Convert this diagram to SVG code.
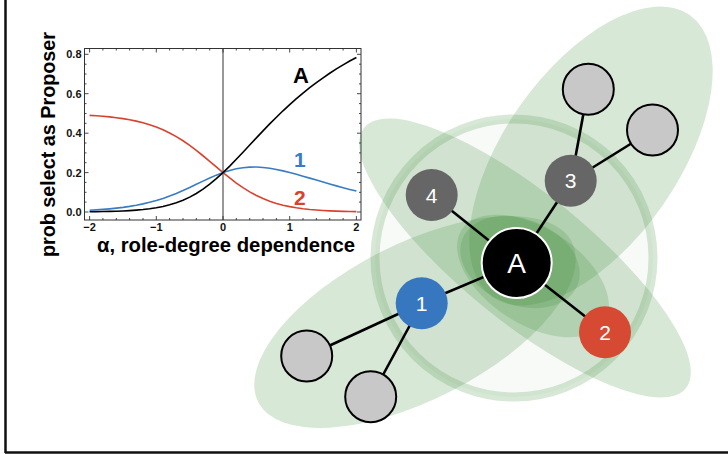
<svg xmlns="http://www.w3.org/2000/svg" width="728" height="454" viewBox="0 0 728 454">
<style>
.lbl{font-family:"Liberation Sans",Arial,sans-serif;font-weight:bold}
.tk{font-family:"Liberation Sans",Arial,sans-serif;font-weight:bold;font-size:11px;fill:#111}
.grp{fill:#3a8a36;fill-opacity:0.2}
.edge{stroke:#000;stroke-width:2.6;fill:none}
.leaf{fill:#c8c8c8;stroke:#000;stroke-width:2}
.nt{font-family:"Liberation Sans",Arial,sans-serif;fill:#fff;text-anchor:middle}
.crv{fill:none;stroke-width:1.6}
</style>
<rect width="728" height="454" fill="#fff"/>
<g id="frame" stroke="#111" stroke-width="2.5" fill="none">
<path d="M5.5 0V453M5 452.5H728"/>
</g>
<g id="plot">
<rect x="84.5" y="48.5" width="276.5" height="171.5" fill="none" stroke="#333" stroke-width="1"/>
<path d="M223 48.5V220" stroke="#333" stroke-width="1"/>
<path stroke="#333" stroke-width="0.9" fill="none" d="M89.6 220v-4M156.3 220v-4M223 220v-4M289.7 220v-4M356.4 220v-4M89.6 48.5v4M156.3 48.5v4M223 48.5v4M289.7 48.5v4M356.4 48.5v4M102.9 220v-2M116.3 220v-2M129.6 220v-2M143 220v-2M169.6 220v-2M183 220v-2M196.3 220v-2M209.7 220v-2M236.3 220v-2M249.7 220v-2M263 220v-2M276.4 220v-2M303 220v-2M316.4 220v-2M329.7 220v-2M343.1 220v-2M102.9 48.5v2M116.3 48.5v2M129.6 48.5v2M143 48.5v2M169.6 48.5v2M183 48.5v2M196.3 48.5v2M209.7 48.5v2M236.3 48.5v2M249.7 48.5v2M263 48.5v2M276.4 48.5v2M303 48.5v2M316.4 48.5v2M329.7 48.5v2M343.1 48.5v2M84.5 212h4M84.5 172.6h4M84.5 133.2h4M84.5 93.7h4M84.5 54.3h4M361 212h-4M361 172.6h-4M361 133.2h-4M361 93.7h-4M361 54.3h-4M84.5 202.1h2M84.5 192.3h2M84.5 182.4h2M84.5 162.7h2M84.5 152.9h2M84.5 143h2M84.5 123.3h2M84.5 113.5h2M84.5 103.6h2M84.5 83.9h2M84.5 74h2M84.5 64.2h2M361 202.1h-2M361 192.3h-2M361 182.4h-2M361 162.7h-2M361 152.9h-2M361 143h-2M361 123.3h-2M361 113.5h-2M361 103.6h-2M361 83.9h-2M361 74h-2M361 64.2h-2"/>
<g class="tk" text-anchor="end">
<text x="81.5" y="216">0.0</text>
<text x="81.5" y="176.6">0.2</text>
<text x="81.5" y="137.2">0.4</text>
<text x="81.5" y="97.7">0.6</text>
<text x="81.5" y="58.3">0.8</text>
</g>
<g class="tk" text-anchor="middle">
<text x="89.6" y="231">−2</text>
<text x="156.3" y="231">−1</text>
<text x="223" y="231">0</text>
<text x="289.7" y="231">1</text>
<text x="356.4" y="231">2</text>
</g>
<polyline class="crv" stroke="#d9432e" points="89.6,115.34 96.3,115.76 102.9,116.28 109.6,116.91 116.3,117.68 123,118.62 129.6,119.75 136.3,121.12 143,122.76 149.6,124.73 156.3,127.06 163,129.8 169.6,132.99 176.3,136.64 183,140.79 189.7,145.39 196.3,150.4 203,155.75 209.7,161.32 216.3,166.98 223,172.58 229.7,177.97 236.3,183.04 243,187.68 249.7,191.83 256.4,195.46 263,198.58 269.7,201.21 276.4,203.4 283,205.2 289.7,206.65 296.4,207.82 303,208.75 309.7,209.48 316.4,210.06 323.1,210.51 329.7,210.86 336.4,211.13 343.1,211.34 349.7,211.5 356.4,211.62"/>
<polyline class="crv" stroke="#3a7cc4" points="89.6,210.23 96.3,209.85 102.9,209.38 109.6,208.83 116.3,208.16 123,207.35 129.6,206.39 136.3,205.25 143,203.9 149.6,202.33 156.3,200.5 163,198.41 169.6,196.05 176.3,193.42 183,190.55 189.7,187.49 196.3,184.32 203,181.13 209.7,178.03 216.3,175.14 223,172.58 229.7,170.44 236.3,168.8 243,167.68 249.7,167.11 256.4,167.05 263,167.45 269.7,168.27 276.4,169.42 283,170.85 289.7,172.49 296.4,174.28 303,176.17 309.7,178.12 316.4,180.09 323.1,182.05 329.7,183.98 336.4,185.86 343.1,187.68 349.7,189.42 356.4,191.09"/>
<polyline class="crv" stroke="#000" points="89.6,211.76 96.3,211.68 102.9,211.57 109.6,211.42 116.3,211.22 123,210.96 129.6,210.62 136.3,210.16 143,209.56 149.6,208.78 156.3,207.77 163,206.48 169.6,204.83 176.3,202.77 183,200.23 189.7,197.14 196.3,193.45 203,189.13 209.7,184.19 216.3,178.65 223,172.58 229.7,166.07 236.3,159.23 243,152.18 249.7,145.03 256.4,137.88 263,130.83 269.7,123.93 276.4,117.24 283,110.8 289.7,104.61 296.4,98.69 303,93.05 309.7,87.69 316.4,82.6 323.1,77.78 329.7,73.22 336.4,68.92 343.1,64.87 349.7,61.06 356.4,57.49"/>
<text class="lbl" x="293" y="82.7" font-size="22" fill="#000">A</text>
<text class="lbl" x="294" y="166.5" font-size="21" fill="#3a7cc4">1</text>
<text class="lbl" x="294" y="205" font-size="21" fill="#d9432e">2</text>
<text class="lbl" x="97" y="251.5" font-size="20" textLength="258" lengthAdjust="spacingAndGlyphs" fill="#000">α, role-degree dependence</text>
<text class="lbl" transform="translate(54.5 144.5) rotate(-90)" text-anchor="middle" font-size="20" textLength="225" lengthAdjust="spacingAndGlyphs" fill="#000">prob select as Proposer</text>
</g>
<g id="groups">
<ellipse class="grp" cx="591" cy="156" rx="172" ry="87" transform="rotate(-55 591 156)"/>
<ellipse class="grp" cx="415" cy="322" rx="176" ry="78" transform="rotate(-27 415 322)"/>
<ellipse class="grp" cx="525" cy="258" rx="207" ry="64" transform="rotate(39 525 258)"/>
<ellipse class="grp" cx="533" cy="276" rx="85" ry="48" transform="rotate(33 533 276)"/>
<ellipse class="grp" cx="520" cy="262" rx="62" ry="43" transform="rotate(22 520 262)"/>
<circle cx="514" cy="258" r="139" fill="#3a8a36" fill-opacity="0.04" stroke="#3a8a36" stroke-opacity="0.2" stroke-width="9"/>
</g>
<g id="connectors" class="edge">
<line x1="517" y1="263" x2="432" y2="195"/>
<line x1="517" y1="263" x2="571" y2="181"/>
<line x1="517" y1="263" x2="422" y2="303"/>
<line x1="517" y1="263" x2="605" y2="332"/>
<line x1="571" y1="181" x2="588" y2="89"/>
<line x1="571" y1="181" x2="653" y2="130"/>
<line x1="422" y1="303" x2="307" y2="356"/>
<line x1="422" y1="303" x2="371" y2="397"/>
</g>
<g id="leaf-top"><circle class="leaf" cx="588.3" cy="89.3" r="25.5"/></g>
<g id="leaf-right"><circle class="leaf" cx="652.5" cy="130" r="25.5"/></g>
<g id="leaf-ll"><circle class="leaf" cx="306.7" cy="356" r="25.5"/></g>
<g id="leaf-bottom"><circle class="leaf" cx="370.7" cy="396.7" r="25.5"/></g>
<g id="node-4"><circle cx="431.7" cy="195" r="26" fill="#666"/><text class="nt" x="431.7" y="202.6" font-size="21" fill="#eee">4</text></g>
<g id="node-3"><circle cx="570.7" cy="180.7" r="26" fill="#666"/><text class="nt" x="570.7" y="188.3" font-size="21" fill="#eee">3</text></g>
<g id="node-1"><circle cx="421.7" cy="303.3" r="26" fill="#3777c0"/><text class="nt" x="421.7" y="310.9" font-size="21">1</text></g>
<g id="node-2"><circle cx="605" cy="332.3" r="26" fill="#d64a33"/><text class="nt" x="605" y="339.9" font-size="21">2</text></g>
<g id="node-A"><circle cx="516.7" cy="263" r="35" fill="#000" stroke="#fff" stroke-width="2"/><text class="nt" x="516.7" y="273.2" font-size="28">A</text></g>
</svg>
